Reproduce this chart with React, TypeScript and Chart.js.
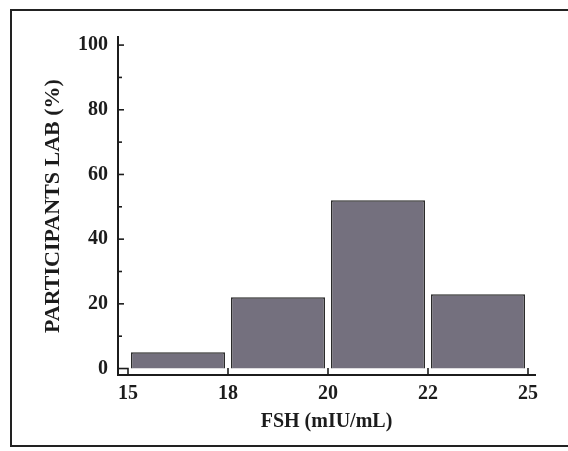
import React, { useEffect, useRef } from "react";
import { Chart, registerables } from "chart.js";

Chart.register(...registerables);

// FSH bin edges (tick labels) and share of participating labs per bin (%)
const binEdges = ["15", "18", "20", "22", "25"];
const binCenters = [0.5, 1.5, 2.5, 3.5];
const participantsPct = [5, 22, 52, 23];
const yTickValues = [0, 20, 40, 60, 80, 100];
const yMinorValues = [10, 30, 50, 70, 90];

const FONT = "'Liberation Serif', 'Times New Roman', serif";
const INK = "#1c1c1c";

const inwardTicks = {
  id: "inwardTicks",
  afterDraw(chart: any) {
    const { ctx, chartArea } = chart;
    const xs = chart.scales.x;
    const ys = chart.scales.y;
    ctx.save();
    ctx.strokeStyle = INK;
    ctx.lineWidth = 1.6;
    const left = chartArea.left;
    const bottom = chartArea.bottom;
    yTickValues.forEach((v) => {
      if (v === 0) return;
      const y = ys.getPixelForValue(v);
      ctx.beginPath();
      ctx.moveTo(left, y);
      ctx.lineTo(left + 6, y);
      ctx.stroke();
    });
    yMinorValues.forEach((v) => {
      const y = ys.getPixelForValue(v);
      ctx.beginPath();
      ctx.moveTo(left, y);
      ctx.lineTo(left + 4, y);
      ctx.stroke();
    });
    binEdges.forEach((_, i) => {
      if (i === 0) return;
      const x = xs.getPixelForValue(i);
      ctx.beginPath();
      ctx.moveTo(x, bottom);
      ctx.lineTo(x, bottom - 7);
      ctx.stroke();
    });
    const x0 = xs.getPixelForValue(0);
    const y0 = ys.getPixelForValue(0);
    ctx.strokeRect(left, y0, x0 - left, bottom - y0);
    ctx.restore();
  },
};

export default function App() {
  const canvasRef = useRef<HTMLCanvasElement | null>(null);

  useEffect(() => {
    if (!canvasRef.current) return;
    const chart = new Chart(canvasRef.current, {
      type: "bar",
      data: {
        datasets: [
          {
            data: binCenters.map((x, i) => ({ x, y: participantsPct[i] })),
            backgroundColor: "rgb(116,112,126)",
            borderColor: "#2a2a2a",
            borderWidth: 1.5,
            barPercentage: 0.94,
            categoryPercentage: 1,
          },
        ],
      },
      options: {
        animation: false,
        responsive: false,
        devicePixelRatio: 1,
        layout: { padding: { left: 8, top: 37, right: 33, bottom: 0 } },
        plugins: { legend: { display: false }, tooltip: { enabled: false } },
        scales: {
          x: {
            type: "linear",
            offset: false,
            min: -0.1,
            max: 4.07,
            afterBuildTicks: (axis: any) => {
              axis.ticks = binEdges.map((_, i) => ({ value: i }));
            },
            afterFit: (axis: any) => {
              axis.height = 76;
            },
            grid: { display: false, drawTicks: false, tickLength: 0 },
            border: { display: true, color: INK, width: 2 },
            ticks: {
              autoSkip: false,
              maxRotation: 0,
              padding: 7,
              color: INK,
              font: { family: FONT, size: 20, weight: "bold" },
              callback: (v: any) => binEdges[Math.round(Number(v))] ?? "",
            },
            title: {
              display: true,
              text: "FSH (mIU/mL)",
              color: INK,
              font: { family: FONT, size: 20, weight: "bold" },
              padding: { top: 0, bottom: 17 },
            },
          },
          y: {
            type: "linear",
            min: -2,
            max: 102.5,
            afterBuildTicks: (axis: any) => {
              axis.ticks = yTickValues.map((v) => ({ value: v }));
            },
            afterFit: (axis: any) => {
              axis.width = 110;
            },
            grid: { display: false, drawTicks: false, tickLength: 0 },
            border: { display: true, color: INK, width: 2 },
            ticks: {
              padding: 10,
              color: INK,
              font: { family: FONT, size: 20, weight: "bold" },
              callback: (v: any) => String(v),
            },
            title: {
              display: true,
              text: "PARTICIPANTS LAB (%)",
              color: INK,
              font: { family: FONT, size: 22, weight: "bold" },
              padding: { top: 32, bottom: 0 },
            },
          },
        },
      },
      plugins: [inwardTicks],
    } as any);
    return () => chart.destroy();
  }, []);

  return (
    <div
      style={{
        position: "fixed",
        left: 0,
        top: 0,
        width: 568,
        height: 451,
        overflow: "hidden",
        background: "#fff",
      }}
    >
      <div
        style={{
          position: "absolute",
          left: 10,
          top: 9,
          width: 570,
          height: 438,
          boxSizing: "border-box",
          borderTop: "2px solid #222",
          borderLeft: "2px solid #222",
          borderBottom: "2px solid #222",
        }}
      />
      <canvas
        ref={canvasRef}
        width={568}
        height={451}
        style={{ position: "absolute", left: 0, top: 0 }}
      />
    </div>
  );
}
